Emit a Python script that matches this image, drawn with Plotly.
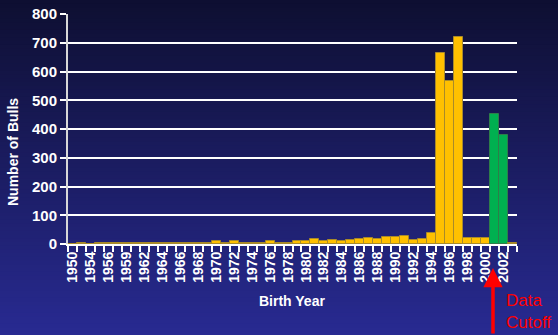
import plotly.graph_objects as go

# ---- data ----
years = ["1950", "1953", "1954", "1955", "1956", "1958", "1959", "1961",
         "1962", "1963", "1964", "1965", "1966", "1967", "1968", "1969",
         "1970", "1971", "1972", "1973", "1974", "1975", "1976", "1977",
         "1978", "1979", "1980", "1981", "1982", "1983", "1984", "1985",
         "1986", "1987", "1988", "1989", "1990", "1991", "1992", "1993",
         "1994", "1995", "1996", "1997", "1998", "1999", "2000", "2001",
         "2002", "2003"]
bulls = [0, 3, 0, 3, 2, 2, 2, 2,
         2, 2, 2, 2, 2, 2, 2, 2,
         9, 3, 9, 3, 3, 3, 9, 3,
         3, 9, 9, 17, 12, 14, 10, 14,
         18, 22, 18, 25, 25, 29, 14, 16,
         40, 663, 566, 721, 22, 22, 22, 453,
         378, 4]
after_cutoff = ["2001", "2002"]
tick_labels = ["1950", "1954", "1956", "1959", "1962", "1964", "1966", "1968",
               "1970", "1972", "1974", "1976", "1978", "1980", "1982", "1984",
               "1986", "1988", "1990", "1992", "1994", "1996", "1998", "2000",
               "2002"]
y_ticks = [0, 100, 200, 300, 400, 500, 600, 700, 800]

colors = ["#00B050" if y in after_cutoff else "#FFC000" for y in years]
line_colors = ["#2E7D4A" if y in after_cutoff else "#A88A2A" for y in years]

fig = go.Figure()
fig.add_trace(go.Bar(
    x=years, y=bulls,
    marker=dict(color=colors, line=dict(color=line_colors, width=1)),
    showlegend=False,
))

# layout geometry (pixels)
W, H = 558, 335
L, R, T, B = 68, 41, 14, 91
pw, ph = W - L - R, H - T - B

def px_x(X):
    return (X - L) / pw

def px_y(Y):
    return (H - B - Y) / ph

# gradient background as stacked stripes
shapes = []
n = 90
top = (14, 15, 50)
bot = (40, 42, 145)
for i in range(n):
    f = i / (n - 1)
    c = tuple(int(round(top[k] + (bot[k] - top[k]) * f)) for k in range(3))
    y0 = i * H / n if i > 0 else -30
    y1 = (i + 1) * H / n + 0.8 if i < n - 1 else H + 30
    shapes.append(dict(type="rect", xref="paper", yref="paper",
                       x0=px_x(-30), x1=px_x(W + 30),
                       y0=px_y(y1), y1=px_y(y0),
                       fillcolor="rgb(%d,%d,%d)" % c, line=dict(width=0),
                       layer="below"))

ticktext = [y if y in tick_labels else "" for y in years]

bold = dict(family="Liberation Sans, Arial, sans-serif", color="white", weight="bold")

fig.update_layout(
    width=W, height=H,
    margin=dict(l=L, r=R, t=T, b=B, autoexpand=False),
    paper_bgcolor="rgb(28,30,100)",
    plot_bgcolor="rgba(0,0,0,0)",
    bargap=0,
    shapes=shapes,
    xaxis=dict(
        type="category", automargin=False,
        tickmode="array", tickvals=years, ticktext=ticktext,
        tickangle=-90, tickson="boundaries",
        ticks="outside", ticklen=6, tickwidth=1.5, tickcolor="white",
        tickfont=dict(size=14, **bold),
        showline=True, linecolor="white", linewidth=2,
        showgrid=False, zeroline=False,
    ),
    yaxis=dict(
        range=[0, 800], tickmode="array", tickvals=y_ticks, automargin=False,
        ticks="outside", ticklen=6, tickwidth=1.5, tickcolor="white",
        tickfont=dict(size=15, **bold),
        showgrid=True, gridcolor="white", gridwidth=1.5,
        showline=True, linecolor="#d8d8d8", linewidth=2,
        zeroline=False,
    ),
    annotations=[
        dict(text="Number of Bulls", xref="paper", yref="paper",
             x=px_x(13), y=px_y(152), textangle=-90, showarrow=False,
             xanchor="center", yanchor="middle", font=dict(size=14, **bold)),
        dict(text="Birth Year", xref="paper", yref="paper",
             x=px_x(292), y=px_y(301), showarrow=False,
             xanchor="center", yanchor="middle", font=dict(size=14, **bold)),
        dict(text="Data<br>Cutoff", xref="paper", yref="paper",
             x=px_x(504), y=px_y(289), showarrow=False, align="left",
             xanchor="left", yanchor="top",
             font=dict(size=17, color="#FF0000",
                       family="Liberation Sans, Arial, sans-serif")),
        dict(text="", xref="paper", yref="paper",
             x=px_x(493), y=px_y(268), ax=0, ay=75,
             showarrow=True, arrowhead=2, arrowsize=1.1, arrowwidth=3.5,
             arrowcolor="#FF0000"),
    ],
)

fig.write_html("out.html")
